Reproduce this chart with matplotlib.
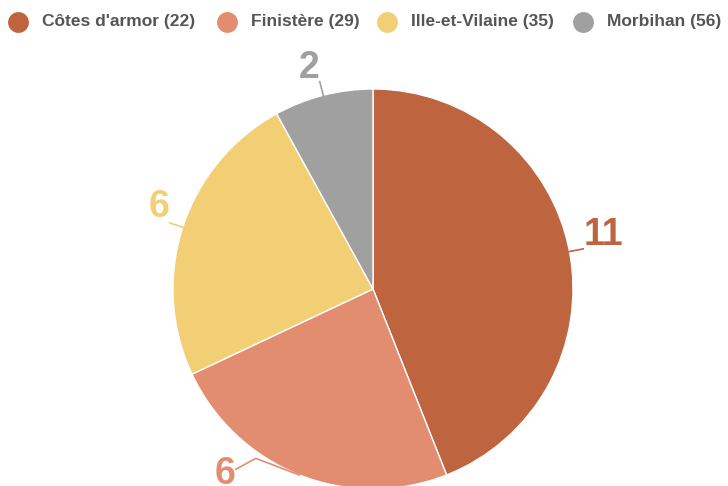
import numpy as np
import matplotlib
matplotlib.use("Agg")
import matplotlib.pyplot as plt

# data
departements = ["Côtes d'armor (22)", "Finistère (29)", "Ille-et-Vilaine (35)", "Morbihan (56)"]
counts = [11, 6, 6, 2]
colors = ["#be643f", "#e38d70", "#f2ce75", "#a0a0a0"]

plt.rcParams['font.family'] = ['Liberation Sans', 'DejaVu Sans']

W, H = 728, 486
fig = plt.figure(figsize=(W / 100, H / 100), dpi=100)
ax = fig.add_axes([0, 0, 1, 1])

cx, cy, R = 373, H - 289, 200

wedges, _ = ax.pie(counts, colors=colors, startangle=90, counterclock=False,
                   center=(cx, cy), radius=R, frame=True,
                   wedgeprops=dict(edgecolor='white', linewidth=1))
ax.set_xlim(0, W)
ax.set_ylim(0, H)
ax.set_aspect('equal')
ax.axis('off')

# label offsets from the end of the leader line (x, baseline)
offsets = {0: (20, 4), 2: (-10, 6), 3: (-11, 4)}
for i, w in enumerate(wedges):
    mid = np.deg2rad((w.theta1 + w.theta2) / 2)
    ex, ey = cx + R * np.cos(mid), cy + R * np.sin(mid)
    col = colors[i]
    if i == 1:
        # label pushed up-left so it stays inside the picture
        bend = np.deg2rad(-124.7)
        bx, by = cx + 206 * np.cos(bend), cy + 206 * np.sin(bend)
        ax.plot([ex, bx, bx - 20], [ey, by, by - 11], color=col, lw=1.2)
        ax.text(bx - 31, by - 26, str(counts[i]), color=col, fontsize=27,
                fontweight='bold', ha='center', va='baseline')
        continue
    ox, oy = cx + (R + 14) * np.cos(mid), cy + (R + 14) * np.sin(mid)
    ax.plot([ex, ox], [ey, oy], color=col, lw=1.2)
    dx, dy = offsets[i]
    ax.text(ox + dx, oy + dy, str(counts[i]), color=col, fontsize=27,
            fontweight='bold', ha='center', va='baseline')

# legend
leg_x = [18, 227, 387, 583]
leg_y = H - 22
for i, name in enumerate(departements):
    ax.plot(leg_x[i], leg_y, 'o', ms=15, color=colors[i], mec='none', clip_on=False)
    ax.text(leg_x[i] + 24, leg_y, name, color='#555555', fontsize=12.5, fontweight='bold',
            ha='left', va='center')

fig.savefig("out.png", dpi=100)
